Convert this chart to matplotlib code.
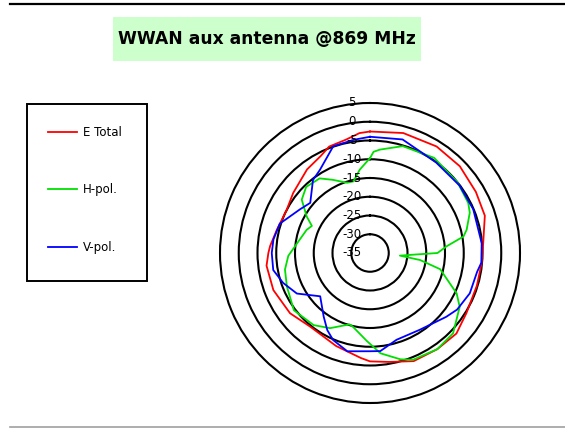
import numpy as np
import matplotlib
matplotlib.use("Agg")
import matplotlib.pyplot as plt
from matplotlib.patches import Rectangle
from matplotlib.lines import Line2D
from matplotlib.transforms import offset_copy

# angles in degrees, clockwise from top; levels in dB
e_total_deg = [0, 15.5, 32, 46, 60, 72, 85, 95, 107, 122, 133, 145, 158, 170, 180, 185,
               200, 219, 233, 249, 263, 270, 274, 284, 297, 308, 323, 333, 339, 348, 355]
e_total_db = [-2.6, -1.8, -1.5, -1.7, -2.4, -2.8, -4.7, -5.1, -5.2, -4.7, -3.5, -3.7, -3.9, -5.5, -6.1, -6.9,
              -8.6, -9.7, -8.3, -7.4, -7.2, -7.9, -8.3, -9.4, -10.0, -9.0, -7.1, -6.0, -4.6, -4.1, -2.9]

h_pol_deg = [0, 2, 5.5, 17, 34, 51, 63, 68, 76.5, 80, 85, 90, 95, 98, 103, 115, 121, 134, 145, 158, 164,
             174, 182, 193, 196, 208, 218, 233, 248, 259, 268, 275, 290, 295, 300, 308, 316, 326, 333,
             342, 347, 353]
h_pol_db = [-9.7, -8.0, -7.3, -5.2, -4.4, -5.0, -5.6, -6.3, -8.5, -9.7, -14.5, -17.0, -27.0, -21.5, -15.8,
            -9.5, -7.1, -4.2, -3.7, -4.3, -5.5, -8.1, -11.5, -14.8, -15.2, -12.3, -10.6, -9.6, -11.1, -11.9,
            -13.2, -14.9, -17.0, -17.9, -15.5, -11.9, -10.5, -11.0, -13.1, -15.3, -15.4, -12.6]

v_pol_deg = [0, 16, 36, 53, 67, 85, 95, 100, 112, 123, 130, 147, 163, 174, 180, 193, 203, 209, 216, 229,
             241, 251, 260, 270, 278, 288, 302, 310, 322, 329, 341, 352]
v_pol_db = [-4.0, -3.5, -5.1, -5.1, -5.1, -5.1, -5.2, -6.0, -6.3, -7.3, -8.5, -10.6, -10.8, -8.7, -8.8, -8.1,
            -9.8, -11.5, -14.0, -17.4, -12.7, -10.5, -8.8, -8.8, -9.0, -9.7, -13.0, -14.2, -10.3, -9.1,
            -4.9, -4.5]

ring_levels = [5, 0, -5, -10, -15, -20, -25, -30, -35]
series_names = ["E Total", "H-pol.", "V-pol."]
series_colors = ["#ff0000", "#00e000", "#0000ff"]
title = "WWAN aux antenna @869 MHz"


def closed(deg, db):
    t = np.deg2rad(np.append(deg, deg[0]))
    return t, np.append(db, db[0])


W, H = 565, 436
fig = plt.figure(figsize=(W / 100, H / 100), dpi=100)
fig.patch.set_facecolor("white")

# header / footer rules
fig.add_artist(Line2D([10 / W, 1], [1 - 4.5 / H] * 2, color="black", lw=1.6))
fig.add_artist(Line2D([10 / W, 1], [1 - 427 / H] * 2, color="#a0a0a0", lw=1.2))

# title with green band
fig.add_artist(Rectangle((113 / W, 1 - 61 / H), 308 / W, 44 / H,
                         transform=fig.transFigure, facecolor="#ccffcc", edgecolor="none"))
fig.text(267 / W, 1 - 39 / H, title, ha="center", va="center",
         fontsize=12.3, fontweight="bold", color="black")

ax = fig.add_axes([220 / W, 33 / H, 300 / W, 300 / H], projection="polar")
ax.set_theta_zero_location("N")
ax.set_theta_direction(-1)
ax.set_ylim(-35, 5)
ax.set_xticks([])
ax.set_yticks([r for r in ring_levels if -35 < r < 5])
ax.set_yticklabels([])
ax.yaxis.grid(True, color="black", lw=1.5)
ax.xaxis.grid(False)
ax.spines["polar"].set_color("black")
ax.spines["polar"].set_linewidth(1.5)

lines = []
for (deg, db), name, col in zip([(e_total_deg, e_total_db), (h_pol_deg, h_pol_db), (v_pol_deg, v_pol_db)],
                                series_names, series_colors):
    t, r = closed(deg, db)
    ln, = ax.plot(t, r, color=col, lw=1.3, label=name)
    lines.append(ln)

# ring labels along the top
lab_tr = offset_copy(ax.transData, fig=fig, x=-18, y=0, units="dots")
for lv in ring_levels:
    ax.text(0, lv, str(lv), transform=lab_tr, ha="center", va="center", fontsize=8.5, color="black")

# legend box drawn separately, entries placed inside
fig.add_artist(Rectangle((26.7 / W, 1 - 281 / H), 120.6 / W, 177 / H, transform=fig.transFigure,
                         facecolor="none", edgecolor="black", lw=1.4))
fig.legend(handles=lines, loc="upper left", bbox_to_anchor=(26.7 / W, 1 - 104 / H),
           fontsize=8.5, frameon=False, labelspacing=3.77, handlelength=2.46,
           handletextpad=0.5, borderpad=1.84, borderaxespad=0)

fig.savefig("out.png", dpi=100, facecolor="white")
